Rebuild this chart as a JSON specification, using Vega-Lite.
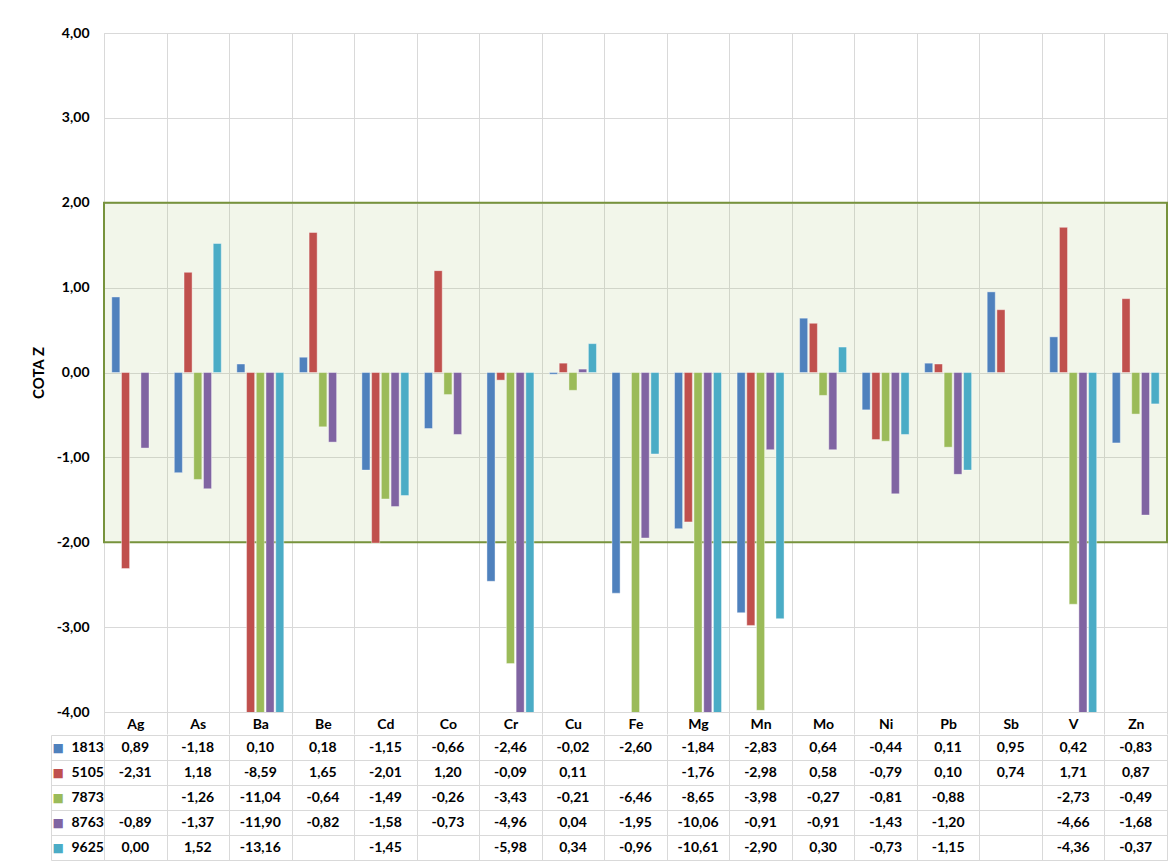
{
  "$schema": "https://vega.github.io/schema/vega-lite/v6.json",
  "padding": {"left": 30, "top": 25, "right": 0, "bottom": 0},
  "autosize": {"type": "pad"},
  "background": "white",
  "spacing": -8,
  "datasets": {
    "d": [
      {"e":"Ag","s":"1813","v":0.89},{"e":"As","s":"1813","v":-1.18},{"e":"Ba","s":"1813","v":0.10},{"e":"Be","s":"1813","v":0.18},{"e":"Cd","s":"1813","v":-1.15},{"e":"Co","s":"1813","v":-0.66},{"e":"Cr","s":"1813","v":-2.46},{"e":"Cu","s":"1813","v":-0.02},{"e":"Fe","s":"1813","v":-2.60},{"e":"Mg","s":"1813","v":-1.84},{"e":"Mn","s":"1813","v":-2.83},{"e":"Mo","s":"1813","v":0.64},{"e":"Ni","s":"1813","v":-0.44},{"e":"Pb","s":"1813","v":0.11},{"e":"Sb","s":"1813","v":0.95},{"e":"V","s":"1813","v":0.42},{"e":"Zn","s":"1813","v":-0.83},
      {"e":"Ag","s":"5105","v":-2.31},{"e":"As","s":"5105","v":1.18},{"e":"Ba","s":"5105","v":-8.59},{"e":"Be","s":"5105","v":1.65},{"e":"Cd","s":"5105","v":-2.01},{"e":"Co","s":"5105","v":1.20},{"e":"Cr","s":"5105","v":-0.09},{"e":"Cu","s":"5105","v":0.11},{"e":"Mg","s":"5105","v":-1.76},{"e":"Mn","s":"5105","v":-2.98},{"e":"Mo","s":"5105","v":0.58},{"e":"Ni","s":"5105","v":-0.79},{"e":"Pb","s":"5105","v":0.10},{"e":"Sb","s":"5105","v":0.74},{"e":"V","s":"5105","v":1.71},{"e":"Zn","s":"5105","v":0.87},
      {"e":"As","s":"7873","v":-1.26},{"e":"Ba","s":"7873","v":-11.04},{"e":"Be","s":"7873","v":-0.64},{"e":"Cd","s":"7873","v":-1.49},{"e":"Co","s":"7873","v":-0.26},{"e":"Cr","s":"7873","v":-3.43},{"e":"Cu","s":"7873","v":-0.21},{"e":"Fe","s":"7873","v":-6.46},{"e":"Mg","s":"7873","v":-8.65},{"e":"Mn","s":"7873","v":-3.98},{"e":"Mo","s":"7873","v":-0.27},{"e":"Ni","s":"7873","v":-0.81},{"e":"Pb","s":"7873","v":-0.88},{"e":"V","s":"7873","v":-2.73},{"e":"Zn","s":"7873","v":-0.49},
      {"e":"Ag","s":"8763","v":-0.89},{"e":"As","s":"8763","v":-1.37},{"e":"Ba","s":"8763","v":-11.90},{"e":"Be","s":"8763","v":-0.82},{"e":"Cd","s":"8763","v":-1.58},{"e":"Co","s":"8763","v":-0.73},{"e":"Cr","s":"8763","v":-4.96},{"e":"Cu","s":"8763","v":0.04},{"e":"Fe","s":"8763","v":-1.95},{"e":"Mg","s":"8763","v":-10.06},{"e":"Mn","s":"8763","v":-0.91},{"e":"Mo","s":"8763","v":-0.91},{"e":"Ni","s":"8763","v":-1.43},{"e":"Pb","s":"8763","v":-1.20},{"e":"V","s":"8763","v":-4.66},{"e":"Zn","s":"8763","v":-1.68},
      {"e":"Ag","s":"9625","v":0.00},{"e":"As","s":"9625","v":1.52},{"e":"Ba","s":"9625","v":-13.16},{"e":"Cd","s":"9625","v":-1.45},{"e":"Cr","s":"9625","v":-5.98},{"e":"Cu","s":"9625","v":0.34},{"e":"Fe","s":"9625","v":-0.96},{"e":"Mg","s":"9625","v":-10.61},{"e":"Mn","s":"9625","v":-2.90},{"e":"Mo","s":"9625","v":0.30},{"e":"Ni","s":"9625","v":-0.73},{"e":"Pb","s":"9625","v":-1.15},{"e":"V","s":"9625","v":-4.36},{"e":"Zn","s":"9625","v":-0.37}
    ]
  },
  "data": {"name": "d"},
  "vconcat": [
    {
      "width": 1063,
      "height": 679,
      "layer": [
        {
          "data": {"values": [{"lo": -2, "hi": 2}]},
          "mark": {"type": "rect", "fill": "#9BBB59", "fillOpacity": 0.13, "stroke": "#77933C", "strokeWidth": 2},
          "encoding": {
            "y": {"field": "hi", "type": "quantitative", "title": "COTA Z"},
            "y2": {"field": "lo"}
          }
        },
        {
          "mark": {"type": "bar", "clip": true, "stroke": "#FFFFFF", "strokeOpacity": 0.4, "strokeWidth": 1},
          "encoding": {
            "x": {
              "field": "e", "type": "nominal", "sort": null,
              "scale": {"domain": ["Ag","As","Ba","Be","Cd","Co","Cr","Cu","Fe","Mg","Mn","Mo","Ni","Pb","Sb","V","Zn"], "paddingInner": 0, "paddingOuter": 0},
              "axis": {"title": null, "labelAngle": 0, "tickBand": "extent", "grid": true, "ticks": true, "tickSize": 22, "domain": false, "labelPadding": -10, "labelBaseline": "middle"}
            },
            "xOffset": {
              "field": "s", "type": "nominal",
              "scale": {"domain": ["1813","5105","7873","8763","9625"], "paddingInner": 0.17, "paddingOuter": 0.8}
            },
            "y": {
              "field": "v", "type": "quantitative",
              "scale": {"domain": [-4, 4], "nice": false, "zero": false},
              "axis": {"title": "COTA Z", "values": [-4,-3,-2,-1,0,1,2,3,4], "format": ".2f", "ticks": false, "domain": false, "labelPadding": 15, "titlePadding": 10}
            },
            "color": {
              "field": "s", "type": "nominal",
              "scale": {"domain": ["1813","5105","7873","8763","9625"], "range": ["#4F81BD","#C0504D","#9BBB59","#8064A2","#4BACC6"]},
              "legend": null
            }
          }
        }
      ]
    },
    {
      "width": 1063,
      "height": 125,
      "layer": [
        {
          "mark": {"type": "text", "font": "Lato", "fontWeight": "bold", "fontSize": 14, "color": "#000000"},
          "encoding": {
            "x": {
              "field": "e", "type": "nominal", "sort": null,
              "scale": {"domain": ["Ag","As","Ba","Be","Cd","Co","Cr","Cu","Fe","Mg","Mn","Mo","Ni","Pb","Sb","V","Zn"], "paddingInner": 0, "paddingOuter": 0},
              "axis": {"title": null, "labels": false, "ticks": false, "domain": false, "grid": true, "tickBand": "extent"}
            },
            "y": {
              "field": "s", "type": "nominal",
              "scale": {"domain": ["1813","5105","7873","8763","9625"], "paddingInner": 0, "paddingOuter": 0},
              "axis": {"title": null, "orient": "left", "domain": false, "ticks": true, "tickSize": 53, "tickBand": "extent", "grid": true, "labelAlign": "left", "labelPadding": -20, "labelBaseline": "middle"}
            },
            "text": {"field": "v", "type": "quantitative", "format": ".2f"}
          }
        },
        {
          "mark": {"type": "text", "opacity": 0},
          "encoding": {
            "y": {
              "field": "s", "type": "nominal",
              "axis": {"title": null, "orient": "left", "offset": 53, "domain": true, "domainColor": "#D9D9D9", "ticks": false, "grid": false, "labelExpr": "'■'", "labelFont": "DejaVu Sans", "labelFontSize": 12, "labelAlign": "left", "labelPadding": -1, "labelBaseline": "middle",
                "labelColor": {"condition": [
                  {"test": "datum.value === '1813'", "value": "#4F81BD"},
                  {"test": "datum.value === '5105'", "value": "#C0504D"},
                  {"test": "datum.value === '7873'", "value": "#9BBB59"},
                  {"test": "datum.value === '8763'", "value": "#8064A2"}
                ], "value": "#4BACC6"}
              }
            },
            "text": {"value": ""}
          }
        }
      ],
      "resolve": {"axis": {"y": "independent"}}
    }
  ],
  "config": {
    "locale": {"number": {"decimal": ",", "thousands": ".", "grouping": [3], "currency": ["", " €"], "minus": "-"}},
    "view": {"stroke": "#D9D9D9"},
    "font": "Lato",
    "axis": {"labelFont": "Lato", "labelFontWeight": "bold", "labelFontSize": 14, "labelColor": "#000000", "gridColor": "#D9D9D9", "tickColor": "#D9D9D9", "domainColor": "#D9D9D9", "titleFont": "Lato", "titleFontWeight": "bold", "titleFontSize": 15, "titleColor": "#000000"}
  }
}
